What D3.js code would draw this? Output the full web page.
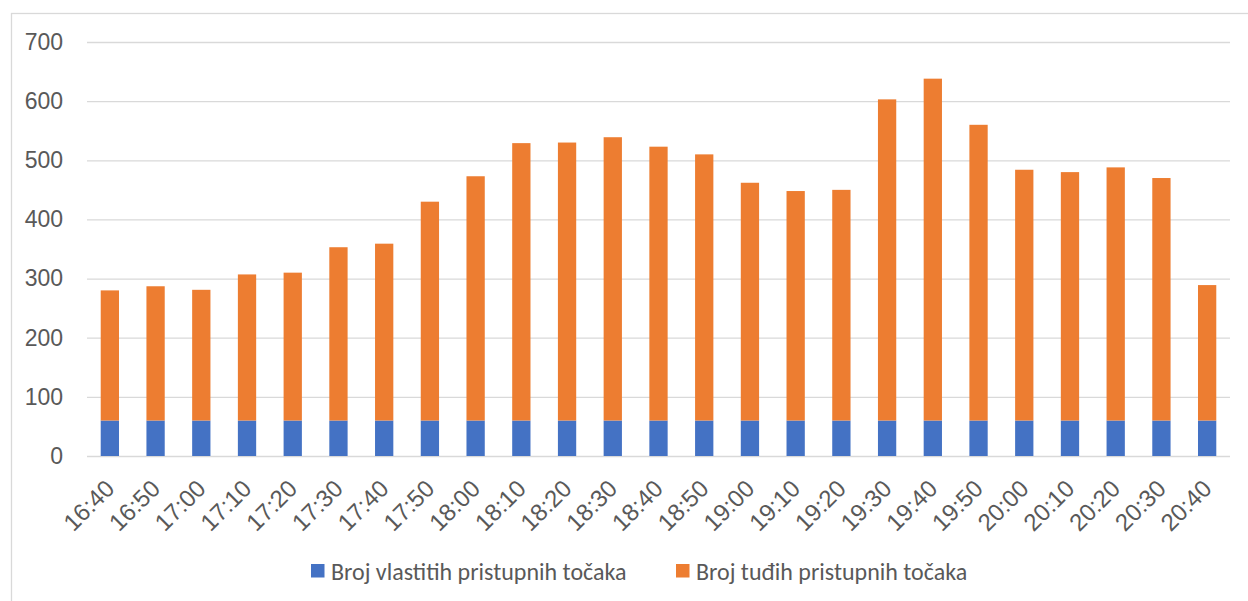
<!DOCTYPE html>
<html>
<head>
<meta charset="utf-8">
<script src="https://cdn.jsdelivr.net/npm/d3@7"></script>
<style>
  html, body { margin: 0; padding: 0; background: #fff; }
  svg { display: block; font-family: Carlito, Calibri, Lato, sans-serif; }
</style>
</head>
<body>
<svg id="chart" width="1248" height="601"></svg>
<script>
const categories = ["16:40","16:50","17:00","17:10","17:20","17:30","17:40","17:50","18:00","18:10","18:20","18:30","18:40","18:50","19:00","19:10","19:20","19:30","19:40","19:50","20:00","20:10","20:20","20:30","20:40"];
const ownAP = [60,60,60,60,60,60,60,60,60,60,60,60,60,60,60,60,60,60,60,60,60,60,60,60,60];
const foreignAP = [220,227,221,247,250,293,299,370,413,469,470,479,463,450,402,388,390,543,578,500,424,420,428,410,229];
const seriesNames = ["Broj vlastitih pristupnih točaka", "Broj tuđih pristupnih točaka"];
const seriesColors = ["#4472C4", "#ED7D31"];
const yTicks = [0,100,200,300,400,500,600,700];

const svg = d3.select("#chart");
const textColor = "#595959";
const plot = {left: 87, right: 1230, top: 42, bottom: 456};

// chart border
svg.append("rect").attr("x", 11.5).attr("y", 13.5).attr("width", 1260).attr("height", 620)
  .attr("fill", "none").attr("stroke", "#d9d9d9").attr("stroke-width", 1.3);

const x = d3.scaleBand().domain(categories).range([plot.left, plot.right]).paddingInner(0.6).paddingOuter(0.3);
const y = d3.scaleLinear().domain([0, 700]).range([plot.bottom, plot.top]);

// gridlines
const yAxis = d3.axisLeft(y).tickValues(yTicks).tickSize(-(plot.right - plot.left)).tickPadding(24).tickFormat(d3.format("d"));
const gy = svg.append("g").attr("transform", `translate(${plot.left},0)`).call(yAxis);
gy.select(".domain").remove();
gy.selectAll(".tick line").attr("stroke", "#d9d9d9").attr("stroke-width", 1.3);
gy.selectAll(".tick text").attr("fill", textColor).style("font-size", "23px");

// stacked data
const rows = categories.map((c, i) => ({cat: c, own: ownAP[i], foreign: foreignAP[i]}));
const stack = d3.stack().keys(["own", "foreign"]);
const layers = stack(rows);

svg.append("g").selectAll("g").data(layers).join("g")
  .attr("fill", (d, i) => seriesColors[i])
  .selectAll("rect").data(d => d).join("rect")
  .attr("x", d => x(d.data.cat))
  .attr("width", x.bandwidth())
  .attr("y", d => y(d[1]))
  .attr("height", d => y(d[0]) - y(d[1]));

// x axis labels
const xAxis = d3.axisBottom(x).tickSize(0).tickPadding(0);
const gx = svg.append("g").attr("transform", `translate(0,${plot.bottom})`).call(xAxis);
gx.select(".domain").remove();
gx.selectAll(".tick text")
  .attr("fill", textColor).style("font-size", "24px")
  .attr("text-anchor", "end")
  .attr("dominant-baseline", "central")
  .attr("dy", null).attr("y", 0)
  .attr("transform", "translate(0,28) rotate(-45)");

// legend
const legend = svg.append("g");
const legendItems = [{x: 311}, {x: 676}];
seriesNames.forEach((name, i) => {
  const g = legend.append("g").attr("transform", `translate(${legendItems[i].x},564)`);
  g.append("rect").attr("width", 13.5).attr("height", 13.5).attr("fill", seriesColors[i]);
  g.append("text").attr("x", 20).attr("y", 7).attr("dominant-baseline", "central")
    .attr("fill", textColor).style("font-size", "24px").text(name);
});
</script>
</body>
</html>
